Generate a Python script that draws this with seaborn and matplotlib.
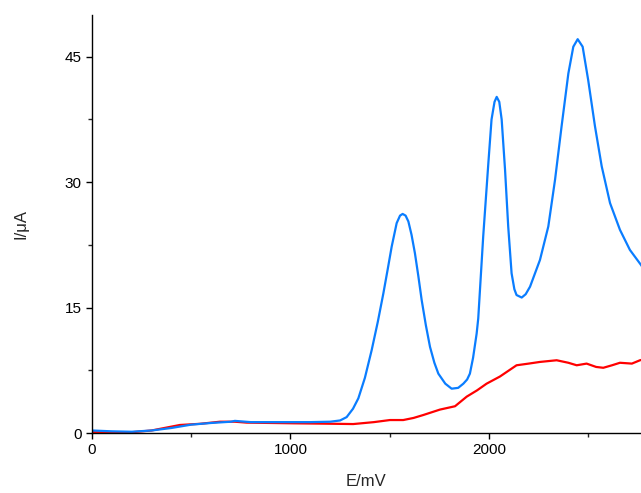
import numpy as np
import pandas as pd
import seaborn as sns
import matplotlib
matplotlib.use("Agg")
import matplotlib.pyplot as plt
from matplotlib.ticker import MultipleLocator

# blue curve (E in mV, I in uA)
blue_E = [0, 100, 200, 300, 400, 500, 600, 700, 720, 800, 900, 1000, 1100, 1200, 1250,
          1283, 1315, 1342, 1375, 1409, 1440, 1468, 1490, 1510, 1535, 1552, 1565, 1580,
          1594, 1610, 1627, 1644, 1661, 1682, 1703, 1725, 1745, 1780, 1812, 1845, 1871,
          1890, 1904, 1920, 1938, 1946, 1971, 1997, 2013, 2028, 2039, 2052, 2064, 2081,
          2097, 2114, 2128, 2139, 2165, 2185, 2207, 2257, 2299, 2333, 2366, 2400, 2425,
          2447, 2472, 2500, 2534, 2568, 2610, 2660, 2710, 2766, 2780]
blue_I = [0.3, 0.2, 0.15, 0.3, 0.6, 1.0, 1.2, 1.35, 1.45, 1.3, 1.3, 1.3, 1.3, 1.35, 1.5,
          1.9, 2.9, 4.15, 6.6, 9.9, 13.3, 16.7, 19.6, 22.3, 25.1, 26.0, 26.2, 26.0,
          25.3, 23.7, 21.5, 18.8, 15.9, 12.9, 10.3, 8.4, 7.1, 5.9, 5.3, 5.4, 5.9,
          6.4, 7.1, 9.0, 11.9, 13.7, 23.5, 32.3, 37.5, 39.6, 40.2, 39.6, 37.5, 31.5,
          24.7, 19.1, 17.2, 16.5, 16.2, 16.6, 17.5, 20.7, 24.7, 30.3, 36.7, 43.0, 46.2,
          47.1, 46.2, 42.2, 36.7, 31.9, 27.5, 24.3, 21.9, 20.1, 19.6]

# red curve
red_E = [0, 100, 175, 300, 443, 545, 645, 720, 779, 900, 1014, 1165, 1316, 1420, 1501,
         1568, 1620, 1669, 1753, 1829, 1888, 1940, 1988, 2055, 2139, 2200, 2257, 2341,
         2400, 2442, 2492, 2540, 2576, 2620, 2660, 2720, 2761, 2780]
red_I = [0.1, 0.05, 0.04, 0.3, 0.96, 1.1, 1.35, 1.35, 1.24, 1.2, 1.16, 1.12, 1.07, 1.3, 1.55,
         1.55, 1.8, 2.15, 2.8, 3.2, 4.35, 5.1, 5.9, 6.75, 8.1, 8.3, 8.5, 8.7,
         8.4, 8.1, 8.3, 7.9, 7.8, 8.1, 8.4, 8.3, 8.7, 8.8]

sns.set_style("ticks")
plt.rcParams['font.family'] = ['Liberation Sans', 'DejaVu Sans']

fig = plt.figure(figsize=(6.41, 4.93), dpi=100)
ax = fig.add_axes([0.1435, 0.1217, 0.8565, 0.848])

sns.lineplot(x=red_E, y=red_I, color='#ff0000', linewidth=1.6, ax=ax)
sns.lineplot(x=blue_E, y=blue_I, color='#0a7dff', linewidth=1.6, ax=ax)

ax.set_xlim(0, 2766)
ax.set_ylim(0, 50)
ax.xaxis.set_major_locator(MultipleLocator(1000))
ax.xaxis.set_minor_locator(MultipleLocator(500))
ax.yaxis.set_major_locator(MultipleLocator(15))
ax.yaxis.set_minor_locator(MultipleLocator(7.5))
ax.tick_params(which='major', direction='out', length=4, width=1, labelsize=11, colors='black')
ax.tick_params(which='minor', direction='out', length=3, width=1)
for s in ['top', 'right']:
    ax.spines[s].set_visible(False)
for s in ['left', 'bottom']:
    ax.spines[s].set_color('black')
    ax.spines[s].set_linewidth(1)

ax.set_xlabel("E/mV", fontsize=12, labelpad=12)
ax.set_ylabel("I/\u03bcA", fontsize=12, labelpad=26)

fig.savefig("out.png", dpi=100)
